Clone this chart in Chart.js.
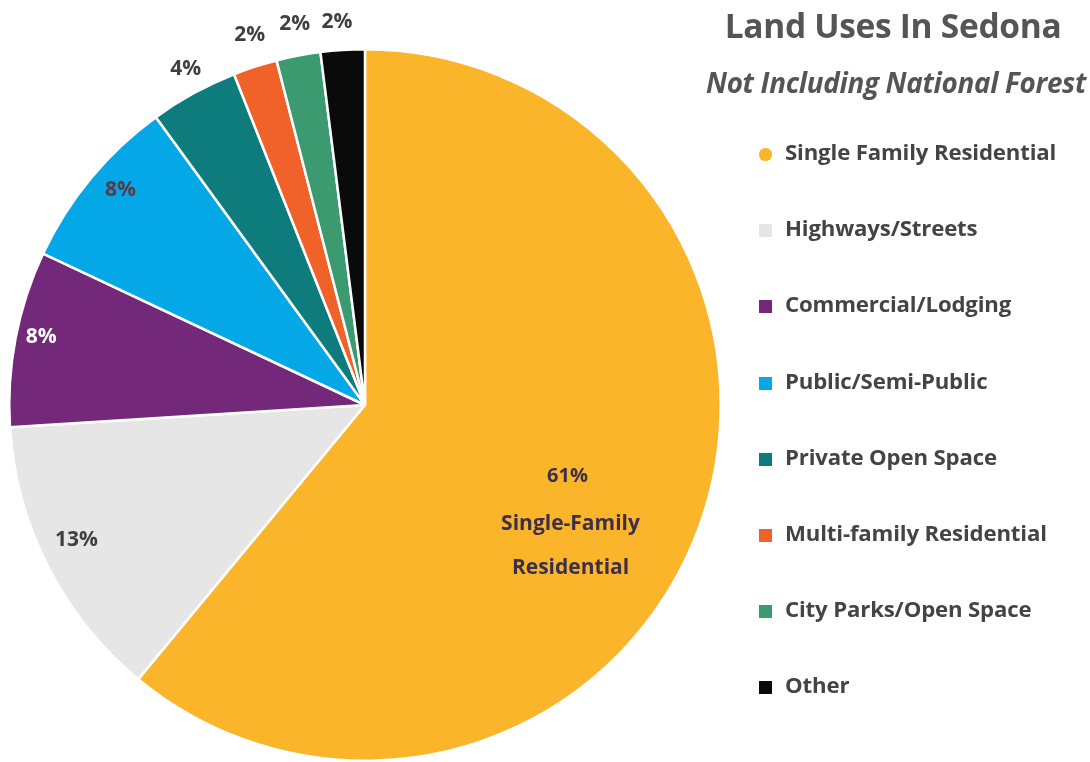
<!DOCTYPE html>
<html>
<head>
<meta charset="utf-8">
<script src="https://cdn.jsdelivr.net/npm/chart.js@4.4.1/dist/chart.umd.min.js"></script>
<style>
  html, body { margin: 0; padding: 0; background: #ffffff; }
  #wrap { position: relative; width: 1090px; height: 762px; overflow: hidden; }
  #pie { position: absolute; left: 0; top: 0; }
  .title {
    position: absolute; left: 700px; width: 386px; text-align: center; white-space: nowrap;
    font-family: "Open Sans", "DejaVu Sans", sans-serif; color: #555555;
  }
  #t1 { top: 2px; left: 700px; font-size: 33.5px; font-weight: 700; letter-spacing: -0.3px; }
  #t2 { top: 63px; left: 703px; width: 386px; font-size: 27.8px; font-weight: 700; font-style: italic; letter-spacing: -0.3px; }
  #legend { position: absolute; left: 759px; top: 136px; }
  .item {
    position: absolute; left: 0; height: 30px; white-space: nowrap;
    font-family: "Open Sans", "DejaVu Sans", sans-serif; font-weight: 700;
    font-size: 22.2px; color: #444444; letter-spacing: -0.15px;
  }
  .swatch { position: absolute; left: 0; top: 12px; width: 13px; height: 13px; }
  .item span.txt { position: absolute; left: 26px; top: 0; }
</style>
</head>
<body>
<div id="wrap">
  <canvas id="pie" width="1090" height="762"></canvas>
  <div class="title" id="t1">Land Uses In Sedona</div>
  <div class="title" id="t2">Not Including National Forest</div>
  <div id="legend"></div>
</div>
<script>
// Land use categories and their share of Sedona (percent)
const categories = [
  "Single Family Residential",
  "Highways/Streets",
  "Commercial/Lodging",
  "Public/Semi-Public",
  "Private Open Space",
  "Multi-family Residential",
  "City Parks/Open Space",
  "Other"
];
const shares = [61, 13, 8, 8, 4, 2, 2, 2];
const sliceColors = ["#FBB52B", "#E6E6E6", "#74287A", "#05A8E6", "#0E7C7D", "#F0622A", "#3C9A71", "#0A0A0A"];

// Label styling per slice: radial distance (fraction of radius), angle nudge (rad), text colour
const labelRadius = [0.62, 0.895, 0.93, 0.915, 1.07, 1.09, 1.09, 1.08];
const labelNudge = [0, 0.035, 0.02, 0.03, 0.012, 0.012, 0.006, -0.01];
const labelColors = ["#3B2F4A", "#404040", "#FFFFFF", "#5A3A44", "#404040", "#404040", "#404040", "#404040"];
const centerCaption = ["Single-Family", "Residential"];

// Legend built from the same arrays
const legendEl = document.getElementById("legend");
categories.forEach((name, i) => {
  const row = document.createElement("div");
  row.className = "item";
  row.style.top = (i * 76.2) + "px";
  const sw = document.createElement("div");
  sw.className = "swatch";
  sw.style.background = sliceColors[i];
  if (i === 0) sw.style.borderRadius = "6px";
  const tx = document.createElement("span");
  tx.className = "txt";
  tx.textContent = name;
  row.appendChild(sw);
  row.appendChild(tx);
  legendEl.appendChild(row);
});

// Percentage labels drawn at each arc's mid-angle
const sliceLabels = {
  id: "sliceLabels",
  afterDatasetsDraw(chart) {
    const ctx = chart.ctx;
    const meta = chart.getDatasetMeta(0);
    ctx.save();
    ctx.textAlign = "center";
    ctx.textBaseline = "middle";
    meta.data.forEach((arc, i) => {
      const p = arc.getProps(["x", "y", "startAngle", "endAngle", "outerRadius"], true);
      const mid = (p.startAngle + p.endAngle) / 2 + labelNudge[i];
      const r = p.outerRadius * labelRadius[i];
      const x = p.x + Math.cos(mid) * r;
      const y = p.y + Math.sin(mid) * r;
      ctx.fillStyle = labelColors[i];
      ctx.font = "700 21px 'Open Sans', 'DejaVu Sans', sans-serif";
      const text = shares[i] + "%";
      if (i === 0) {
        ctx.font = "700 20px 'Open Sans', 'DejaVu Sans', sans-serif";
        ctx.fillText(text, x - 5, y - 3);
        ctx.font = "700 21px 'Open Sans', 'DejaVu Sans', sans-serif";
        ctx.fillText(centerCaption[0], x - 2, y + 44);
        ctx.fillText(centerCaption[1], x - 2, y + 88);
      } else {
        ctx.fillText(text, x, y);
      }
    });
    ctx.restore();
  }
};

new Chart(document.getElementById("pie"), {
  type: "pie",
  data: {
    labels: categories,
    datasets: [{
      data: shares,
      backgroundColor: sliceColors,
      borderColor: "#FFFFFF",
      borderWidth: 2.5,
      hoverOffset: 0
    }]
  },
  options: {
    responsive: false,
    animation: false,
    devicePixelRatio: 1,
    layout: { padding: { left: 7, top: 48, right: 367, bottom: -1 } },
    plugins: {
      legend: { display: false },
      title: { display: false },
      tooltip: { enabled: false }
    }
  },
  plugins: [sliceLabels]
});
</script>
</body>
</html>
